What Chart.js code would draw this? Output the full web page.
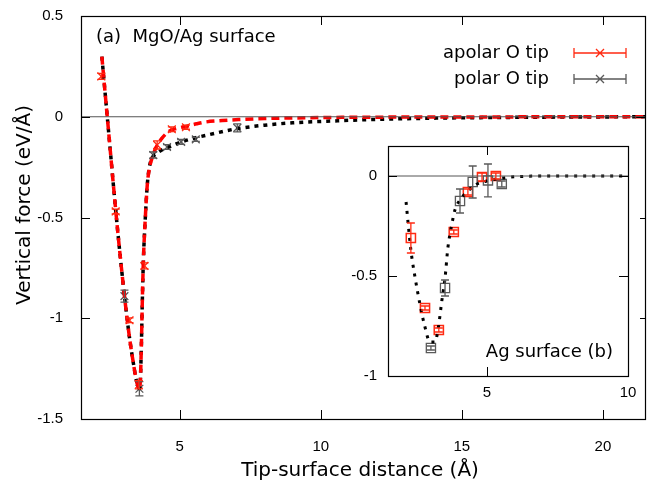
<!DOCTYPE html>
<html>
<head>
<meta charset="utf-8">
<script src="https://cdn.jsdelivr.net/npm/chart.js@4.4.1/dist/chart.umd.min.js"></script>
<style>
html, body { margin: 0; padding: 0; background: #fff; overflow: hidden; width: 647px; height: 488px; }
#wrap { position: relative; width: 652px; height: 488px; }
#main { position: absolute; left: 0; top: 0; width: 652px; height: 488px; }
#inset { position: absolute; left: 330px; top: 138px; width: 310px; height: 270px; }
</style>
</head>
<body>
<div id="wrap">
	<canvas id="main" width="652" height="488"></canvas>
	<canvas id="inset" width="310" height="270"></canvas>
</div>
<script>
/* global Chart */

// (a) MgO/Ag surface - measured points
const apolarX = [2.22, 2.73, 3.22, 3.55, 3.75, 4.2, 4.72, 5.22];
const apolarY = [0.20, -0.47, -1.01, -1.33, -0.74, -0.14, -0.062, -0.052];
const apolarErr = [0.015, 0.012, 0.012, 0.02, 0.015, 0.02, 0.012, 0.01];

const polarX = [3.04, 3.57, 4.06, 4.55, 5.05, 5.57, 7.04];
const polarY = [-0.89, -1.35, -0.19, -0.15, -0.125, -0.112, -0.055];
const polarErr = [0.03, 0.035, 0.015, 0.012, 0.012, 0.01, 0.02];

// (a) fitted curves (the well is shared by both fits)
const fitApolarX = [2.24, 2.38, 2.52, 2.66, 2.8, 2.94, 3.08, 3.22, 3.36, 3.465, 3.57, 3.605, 3.64, 3.675, 3.71, 3.78, 3.85, 3.92, 4.03, 4.17, 4.35, 4.55, 4.73, 5.0, 5.22, 5.6, 5.92, 6.5, 7.08, 8, 9, 10, 12, 15, 21.5];
const fitApolarY = [0.298, 0.079, -0.139, -0.357, -0.566, -0.759, -0.938, -1.097, -1.226, -1.31, -1.35, -1.305, -1.136, -0.908, -0.72, -0.501, -0.337, -0.26, -0.2, -0.15, -0.11, -0.08, -0.065, -0.055, -0.048, -0.035, -0.026, -0.019, -0.014, -0.009, -0.006, -0.004, -0.002, -0.001, 0];

const fitPolarX = [2.24, 2.38, 2.52, 2.66, 2.8, 2.94, 3.08, 3.22, 3.36, 3.465, 3.57, 3.605, 3.64, 3.675, 3.71, 3.78, 3.85, 3.92, 4.03, 4.2, 4.5, 4.62, 5.0, 5.57, 6.0, 7.0, 8, 9, 10.6, 12, 14, 16, 18, 21.5];
const fitPolarY = [0.298, 0.079, -0.139, -0.357, -0.566, -0.759, -0.938, -1.097, -1.226, -1.31, -1.35, -1.305, -1.136, -0.908, -0.72, -0.501, -0.337, -0.253, -0.203, -0.18, -0.155, -0.15, -0.128, -0.104, -0.09, -0.06, -0.042, -0.03, -0.02, -0.013, -0.007, -0.004, -0.002, 0];

const mainXTicks = [5, 10, 15, 20];
const mainYTicks = [0.5, 0, -0.5, -1, -1.5];

// (b) Ag surface inset
const insetApolarX = [2.31, 2.81, 3.3, 3.83, 4.33, 4.83, 5.32];
const insetApolarY = [-0.31, -0.66, -0.77, -0.28, -0.08, -0.005, 0.0];
const insetApolarErr = [0.075, 0.01, 0.01, 0.01, 0.015, 0.02, 0.015];

const insetPolarX = [3.02, 3.52, 4.05, 4.5, 5.04, 5.53];
const insetPolarY = [-0.86, -0.56, -0.125, -0.03, -0.022, -0.04];
const insetPolarErr = [0.01, 0.04, 0.06, 0.08, 0.082, 0.015];

const insetFitX = [2.14, 2.31, 2.45, 2.63, 2.8, 2.99, 3.16, 3.27, 3.41, 3.52, 3.62, 3.75, 3.87, 4.05, 4.22, 4.45, 4.65, 5.0, 5.57, 6.0, 7, 8, 9, 10];
const insetFitY = [-0.13, -0.37, -0.5, -0.64, -0.75, -0.83, -0.83, -0.77, -0.62, -0.51, -0.36, -0.25, -0.17, -0.12, -0.09, -0.06, -0.04, -0.025, -0.01, -0.004, 0, 0, 0, 0];

const insetXTicks = [5, 10];
const insetYTicks = [0, -0.5, -1];

const RED = '#ff2a12';
const GREY = '#5a5a5a';
const LABEL_FONT = '"DejaVu Sans"';
const TICK_FONT = '15px "Liberation Sans"';

const toPoints = (xs, ys) => xs.map((x, i) => ({ x, y: ys[i] }));

// Box around the plot with inward ticks on every side, plus tick labels
const frameTicks = {
	id: 'frameTicks',
	afterDatasetsDraw(chart, args, opts) {
		const { ctx, chartArea: a, scales } = chart;
		const len = opts.len || 8;
		ctx.save();
		ctx.strokeStyle = '#000';
		ctx.lineWidth = 1;
		ctx.beginPath();
		opts.xTicks.forEach((v) => {
			const px = Math.round(scales.x.getPixelForValue(v)) + 0.5;
			ctx.moveTo(px, a.bottom);
			ctx.lineTo(px, a.bottom - len);
			ctx.moveTo(px, a.top);
			ctx.lineTo(px, a.top + len);
		});
		opts.yTicks.forEach((v) => {
			const py = Math.round(scales.y.getPixelForValue(v)) + 0.5;
			ctx.moveTo(a.left, py);
			ctx.lineTo(a.left + len, py);
			ctx.moveTo(a.right, py);
			ctx.lineTo(a.right - len, py);
		});
		ctx.stroke();
		ctx.lineWidth = 1.2;
		ctx.strokeRect(Math.round(a.left) + 0.5, Math.round(a.top) + 0.5, Math.round(a.right - a.left), Math.round(a.bottom - a.top));

		ctx.fillStyle = '#000';
		ctx.font = TICK_FONT;
		ctx.textBaseline = 'middle';
		ctx.textAlign = 'center';
		opts.xTicks.forEach((v) => {
			ctx.fillText(String(v), scales.x.getPixelForValue(v), a.bottom + opts.xLabelGap);
		});
		ctx.textAlign = 'right';
		opts.yTicks.forEach((v) => {
			ctx.fillText(String(v), a.left - opts.yLabelGap, scales.y.getPixelForValue(v));
		});
		ctx.restore();
	}
};

// Vertical error bars for datasets carrying an errors array
const errorBars = {
	id: 'errorBars',
	afterDatasetsDraw(chart) {
		const { ctx, scales } = chart;
		chart.data.datasets.forEach((ds, di) => {
			if (!ds.errors) return;
			const meta = chart.getDatasetMeta(di);
			ctx.save();
			ctx.strokeStyle = ds.borderColor;
			ctx.lineWidth = 1.3;
			ctx.beginPath();
			meta.data.forEach((pt, i) => {
				const d = ds.data[i];
				const top = scales.y.getPixelForValue(d.y + ds.errors[i]);
				const bot = scales.y.getPixelForValue(d.y - ds.errors[i]);
				const cap = 4;
				ctx.moveTo(pt.x, top);
				ctx.lineTo(pt.x, bot);
				ctx.moveTo(pt.x - cap, top);
				ctx.lineTo(pt.x + cap, top);
				ctx.moveTo(pt.x - cap, bot);
				ctx.lineTo(pt.x + cap, bot);
			});
			ctx.stroke();
			ctx.restore();
		});
	}
};

// Free text, axis titles and the gnuplot-like key
const annotations = {
	id: 'annotations',
	afterDraw(chart, args, opts) {
		const { ctx } = chart;
		ctx.save();
		ctx.fillStyle = '#000';
		ctx.textBaseline = 'middle';
		(opts.texts || []).forEach((t) => {
			ctx.save();
			ctx.font = (t.size || 18) + 'px ' + LABEL_FONT;
			ctx.textAlign = t.align || 'left';
			ctx.translate(t.x, t.y);
			if (t.rotate) ctx.rotate(-Math.PI / 2);
			ctx.fillText(t.text, 0, 0);
			ctx.restore();
		});
		ctx.font = '18px ' + LABEL_FONT;
		(opts.keys || []).forEach((k) => {
			ctx.textAlign = 'right';
			ctx.fillStyle = '#000';
			ctx.fillText(k.text, k.x, k.y);
			const x0 = k.x + 25;
			const x1 = k.x + 77;
			const xm = (x0 + x1) / 2;
			ctx.strokeStyle = k.color;
			ctx.lineWidth = 1.3;
			ctx.beginPath();
			ctx.moveTo(x0, k.y);
			ctx.lineTo(x1, k.y);
			ctx.moveTo(x0, k.y - 5);
			ctx.lineTo(x0, k.y + 5);
			ctx.moveTo(x1, k.y - 5);
			ctx.lineTo(x1, k.y + 5);
			ctx.moveTo(xm - 4, k.y - 4);
			ctx.lineTo(xm + 4, k.y + 4);
			ctx.moveTo(xm - 4, k.y + 4);
			ctx.lineTo(xm + 4, k.y - 4);
			ctx.stroke();
		});
		ctx.restore();
	}
};

const whiteBackground = {
	id: 'whiteBackground',
	beforeDraw(chart) {
		const { ctx, width, height } = chart;
		ctx.save();
		ctx.fillStyle = '#fff';
		ctx.fillRect(0, 0, width, height);
		ctx.restore();
	}
};

const hiddenScale = (min, max, size, horizontal) => ({
	type: 'linear',
	min,
	max,
	afterFit: (scale) => {
		if (horizontal) scale.height = size;
		else scale.width = size;
	},
	grid: { display: false },
	border: { display: false },
	ticks: { display: false }
});

const mainChart = new Chart(document.getElementById('main'), {
	type: 'scatter',
	data: {
		datasets: [
			{
				data: toPoints([1.5, 21.5], [0, 0]),
				showLine: true,
				borderColor: '#555',
				borderWidth: 1,
				pointRadius: 0
			},
			{
				data: toPoints(fitApolarX, fitApolarY),
				showLine: true,
				borderColor: '#ff0000',
				borderWidth: 3.5,
				borderDash: [8, 5],
				pointRadius: 0,
				cubicInterpolationMode: 'monotone'
			},
			{
				data: toPoints(fitPolarX, fitPolarY),
				showLine: true,
				borderColor: '#000',
				borderWidth: 3.5,
				borderDash: [4, 5],
				pointRadius: 0,
				cubicInterpolationMode: 'monotone'
			},
			{
				label: 'polar O tip',
				data: toPoints(polarX, polarY),
				errors: polarErr,
				borderColor: GREY,
				backgroundColor: GREY,
				pointStyle: 'crossRot',
				pointRadius: 5.5,
				borderWidth: 1.3
			},
			{
				label: 'apolar O tip',
				data: toPoints(apolarX, apolarY),
				errors: apolarErr,
				borderColor: RED,
				backgroundColor: RED,
				pointStyle: 'crossRot',
				pointRadius: 5.5,
				borderWidth: 1.3
			}
		]
	},
	options: {
		responsive: false,
		animation: false,
		events: [],
		layout: { padding: { top: 16, right: 1, left: 0, bottom: 0 } },
		plugins: {
			legend: { display: false },
			tooltip: { enabled: false },
			frameTicks: { xTicks: mainXTicks, yTicks: mainYTicks, len: 9, xLabelGap: 28, yLabelGap: 18 },
			annotations: {
				texts: [
					{ text: '(a)  MgO/Ag surface', x: 96, y: 37 },
					{ text: 'Tip-surface distance (Å)', x: 360, y: 471, align: 'center', size: 20 },
					{ text: 'Vertical force (eV/Å)', x: 25, y: 205, align: 'center', size: 20, rotate: true }
				],
				keys: [
					{ text: 'apolar O tip', x: 549, y: 53, color: RED },
					{ text: 'polar O tip', x: 549, y: 79, color: GREY }
				]
			}
		},
		scales: {
			x: hiddenScale(1.5, 21.5, 69, true),
			y: hiddenScale(-1.5, 0.5, 81, false)
		}
	},
	plugins: [whiteBackground, errorBars, frameTicks, annotations]
});

const insetChart = new Chart(document.getElementById('inset'), {
	type: 'scatter',
	data: {
		datasets: [
			{
				data: toPoints([1.5, 10], [0, 0]),
				showLine: true,
				borderColor: '#555',
				borderWidth: 1,
				pointRadius: 0
			},
			{
				data: toPoints(insetFitX, insetFitY),
				showLine: true,
				borderColor: '#000',
				borderWidth: 3,
				borderDash: [3, 6],
				pointRadius: 0,
				cubicInterpolationMode: 'monotone'
			},
			{
				data: toPoints(insetPolarX, insetPolarY),
				errors: insetPolarErr,
				borderColor: GREY,
				backgroundColor: 'rgba(0,0,0,0)',
				pointStyle: 'rect',
				pointRadius: 6.5,
				borderWidth: 1.3
			},
			{
				data: toPoints(insetApolarX, insetApolarY),
				errors: insetApolarErr,
				borderColor: RED,
				backgroundColor: 'rgba(0,0,0,0)',
				pointStyle: 'rect',
				pointRadius: 6.5,
				borderWidth: 1.5
			}
		]
	},
	options: {
		responsive: false,
		animation: false,
		events: [],
		layout: { padding: { top: 7, right: 12, left: 0, bottom: 0 } },
		plugins: {
			legend: { display: false },
			tooltip: { enabled: false },
			frameTicks: { xTicks: insetXTicks, yTicks: insetYTicks, len: 9, xLabelGap: 17, yLabelGap: 11 },
			annotations: {
				texts: [{ text: 'Ag surface (b)', x: 283, y: 214, align: 'right' }]
			}
		},
		scales: {
			x: hiddenScale(1.5, 10, 32, true),
			y: hiddenScale(-1, 0.15, 58, false)
		}
	},
	plugins: [whiteBackground, errorBars, frameTicks, annotations]
});
</script>
</body>
</html>
